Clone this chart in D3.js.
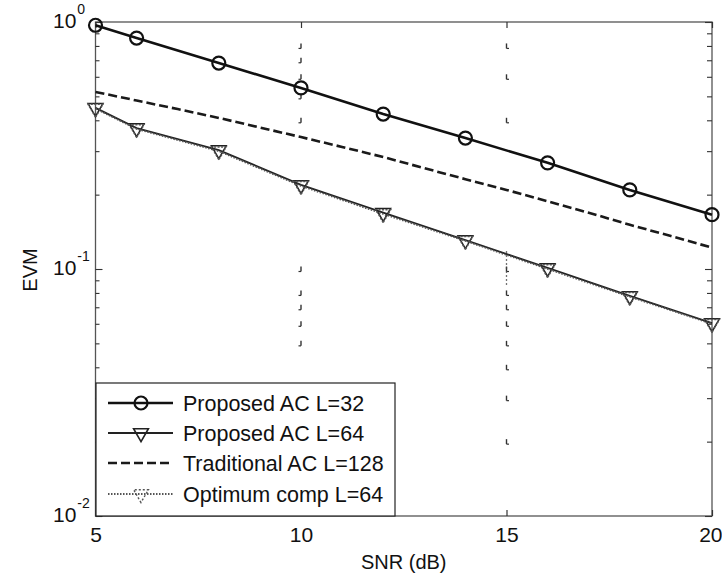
<!DOCTYPE html>
<html>
<head>
<meta charset="utf-8">
<script src="https://cdn.jsdelivr.net/npm/d3@7"></script>
<style>
  html, body { margin: 0; padding: 0; background: #fff; }
  svg { display: block; }
  text { font-family: Arial, "Liberation Sans", Helvetica, sans-serif; fill: #111; }
</style>
</head>
<body>
<svg id="chart" width="722" height="579"></svg>
<script>
// ---- data ----
const snrL32 = [5, 6, 8, 10, 12, 14, 16, 18, 20];
const evmL32 = [0.97, 0.861, 0.682, 0.541, 0.424, 0.339, 0.269, 0.209, 0.166];

const snrL64 = [5, 6, 8, 10, 12, 14, 16, 18, 20];
const evmL64 = [0.449, 0.372, 0.303, 0.219, 0.169, 0.131, 0.101, 0.0778, 0.0604];

const snrTrad = [5, 6, 7, 8, 9, 10, 11, 12, 13, 14, 15, 16, 17, 18, 19, 20];
const evmTrad = [0.521, 0.481, 0.444, 0.409, 0.374, 0.342, 0.312, 0.284, 0.256, 0.231, 0.209, 0.188, 0.169, 0.151, 0.136, 0.122];

const snrOpt = [5, 6, 8, 10, 12, 14, 16, 18, 20];
const evmOpt = [0.446, 0.369, 0.300, 0.217, 0.167, 0.130, 0.100, 0.0772, 0.0600];

const xTicks = [5, 10, 15, 20];
const yMajorTicks = [1, 0.1, 0.01];
const yMajorExp = ["0", "-1", "-2"];
const yMinorTicks = [0.9, 0.8, 0.7, 0.6, 0.5, 0.4, 0.3, 0.2, 0.09, 0.08, 0.07, 0.06, 0.05, 0.04, 0.03, 0.02];

const legendLabels = ["Proposed AC L=32", "Proposed AC L=64", "Traditional AC L=128", "Optimum comp L=64"];

// remnants of the (mostly lost) dotted grid in the scanned figure
const gridRemnants10 = [0.8, 0.7, 0.6, 0.5, 0.4, 0.1, 0.08, 0.07, 0.06, 0.05];
const gridRemnants15 = [0.8, 0.6, 0.4, 0.1, 0.08, 0.07, 0.06, 0.05, 0.04, 0.03, 0.02];

// ---- layout ----
const svg = d3.select("#chart");
const W = 722, H = 579;
const m = { left: 95.5, top: 22, right: 10, bottom: 63 };
const pw = W - m.left - m.right, ph = H - m.top - m.bottom;

const x = d3.scaleLinear().domain([5, 20]).range([m.left, m.left + pw]);
const y = d3.scaleLog().domain([0.01, 1]).range([m.top + ph, m.top]);

const g = svg.append("g");

// grid remnants
function remnants(xv, vals, dir) {
  vals.forEach(v => {
    const px = x(xv), py = y(v);
    g.append("line").attr("x1", px).attr("x2", px).attr("y1", py - 2.5).attr("y2", py + 2.5)
      .attr("stroke", "#333").attr("stroke-width", 1.4);
    g.append("line").attr("x1", px).attr("x2", px + dir * 2.5).attr("y1", py + 2.5).attr("y2", py + 2.5)
      .attr("stroke", "#333").attr("stroke-width", 1.2);
  });
}
remnants(10, gridRemnants10, -1);
remnants(15, gridRemnants15, 1);
g.append("line").attr("x1", x(15)).attr("x2", x(15)).attr("y1", y(0.118)).attr("y2", y(0.085))
  .attr("stroke", "#444").attr("stroke-width", 1.3).attr("stroke-dasharray", "1.5,2.5");

// axes box
g.append("rect").attr("x", m.left).attr("y", m.top).attr("width", pw).attr("height", ph)
  .attr("fill", "none").attr("stroke", "#555").attr("stroke-width", 1.3);

// x ticks (inward, bottom & top)
const xb = svg.append("g").attr("transform", `translate(0,${m.top + ph})`)
  .call(d3.axisBottom(x).tickValues(xTicks).tickSize(-6).tickPadding(11).tickFormat(d3.format("d")));
const xt = svg.append("g").attr("transform", `translate(0,${m.top})`)
  .call(d3.axisTop(x).tickValues(xTicks).tickSize(-6).tickFormat(""));
[xb, xt].forEach(a => {
  a.select(".domain").remove();
  a.selectAll(".tick line").attr("stroke", "#333").attr("stroke-width", 1.2);
  a.selectAll("text").attr("font-size", 21).attr("fill", "#111")
    .style("font-family", 'Arial, "Liberation Sans", Helvetica, sans-serif');
});
// keep the last label inside the window (it touches the right edge in the reference)
xb.selectAll(".tick text").filter(d => d === 20).attr("text-anchor", "end").attr("dx", 10);

// y ticks (inward, left & right), major + minor
function yTicksAxis(gen, offset, vals, size) {
  const a = svg.append("g").attr("transform", `translate(${offset},0)`)
    .call(gen(y).tickValues(vals).tickSize(-size).tickFormat(""));
  a.select(".domain").remove();
  a.selectAll(".tick line").attr("stroke", "#333").attr("stroke-width", 1.1);
}
yTicksAxis(d3.axisLeft, m.left, yMajorTicks, 7);
yTicksAxis(d3.axisLeft, m.left, yMinorTicks, 4);
yTicksAxis(d3.axisRight, m.left + pw, yMajorTicks, 7);
yTicksAxis(d3.axisRight, m.left + pw, yMinorTicks, 5);

// y tick labels 10^n
yMajorTicks.forEach((v, i) => {
  const t = svg.append("text").attr("x", 53).attr("y", y(v) + 6).attr("font-size", 21);
  t.append("tspan").text("10");
  t.append("tspan").attr("dx", 1).attr("dy", -14).attr("font-size", 14).text(yMajorExp[i]);
});

// axis titles
svg.append("text").attr("x", m.left + pw / 2).attr("y", 569).attr("text-anchor", "middle")
  .attr("font-size", 20).text("SNR (dB)");
svg.append("text").attr("transform", "translate(37,270) rotate(-90)").attr("text-anchor", "middle")
  .attr("font-size", 20).text("EVM");

// ---- series ----
const line = d3.line().x(d => x(d[0])).y(d => y(d[1]));
const zip = (a, b) => a.map((v, i) => [v, b[i]]);

const plot = svg.append("g");
const dL32 = zip(snrL32, evmL32), dL64 = zip(snrL64, evmL64),
      dTrad = zip(snrTrad, evmTrad), dOpt = zip(snrOpt, evmOpt);

const tri = d3.symbol().type(d3.symbolTriangle).size(95);
const styles = {
  l32: { stroke: "#111", width: 2.6, dash: null },
  l64: { stroke: "#222", width: 1.8, dash: null },
  trad: { stroke: "#1a1a1a", width: 2.6, dash: "9,4" },
  opt: { stroke: "#555", width: 1.8, dash: "1.5,1.5" }
};

function drawLine(data, s) {
  plot.append("path").datum(data).attr("d", line).attr("fill", "none")
    .attr("stroke", s.stroke).attr("stroke-width", s.width)
    .attr("stroke-dasharray", s.dash);
}
drawLine(dTrad, styles.trad);
drawLine(dL64, styles.l64);
drawLine(dOpt, styles.opt);
drawLine(dL32, styles.l32);

function circles(sel, data) {
  sel.selectAll(null).data(data).enter().append("circle")
    .attr("cx", d => x(d[0])).attr("cy", d => y(d[1])).attr("r", 6.5)
    .attr("fill", "none").attr("stroke", "#111").attr("stroke-width", 2.2);
}
function triangles(sel, data, color, dash) {
  sel.selectAll(null).data(data).enter().append("path")
    .attr("d", tri)
    .attr("transform", d => `translate(${x(d[0])},${y(d[1])}) rotate(180)`)
    .attr("fill", "none").attr("stroke", color).attr("stroke-width", 1.5)
    .attr("stroke-dasharray", dash);
}
triangles(plot, dL64, "#222", null);
triangles(plot, dOpt, "#555", "2,1.5");
circles(plot, dL32);

// ---- legend ----
const lg = svg.append("g");
lg.append("rect").attr("x", 96).attr("y", 383).attr("width", 299).attr("height", m.top + ph - 383)
  .attr("fill", "#fff").attr("stroke", "#222").attr("stroke-width", 1.2);
const rowY = [403, 433, 463, 494];
const keys = ["l32", "l64", "trad", "opt"];
keys.forEach((k, i) => {
  const s = styles[k], yy = rowY[i];
  lg.append("line").attr("x1", 108).attr("x2", 173).attr("y1", yy).attr("y2", yy)
    .attr("stroke", s.stroke).attr("stroke-width", s.width).attr("stroke-dasharray", s.dash);
  lg.append("text").attr("x", 183).attr("y", yy + 7.5).attr("font-size", 21.5).text(legendLabels[i]);
});
lg.append("circle").attr("cx", 141).attr("cy", rowY[0]).attr("r", 6.5)
  .attr("fill", "none").attr("stroke", "#111").attr("stroke-width", 2.2);
lg.append("path").attr("d", tri).attr("transform", `translate(141,${rowY[1]}) rotate(180)`)
  .attr("fill", "none").attr("stroke", "#222").attr("stroke-width", 1.6);
lg.append("path").attr("d", tri).attr("transform", `translate(141,${rowY[3]}) rotate(180)`)
  .attr("fill", "none").attr("stroke", "#555").attr("stroke-width", 1.4).attr("stroke-dasharray", "2,2");
</script>
</body>
</html>
